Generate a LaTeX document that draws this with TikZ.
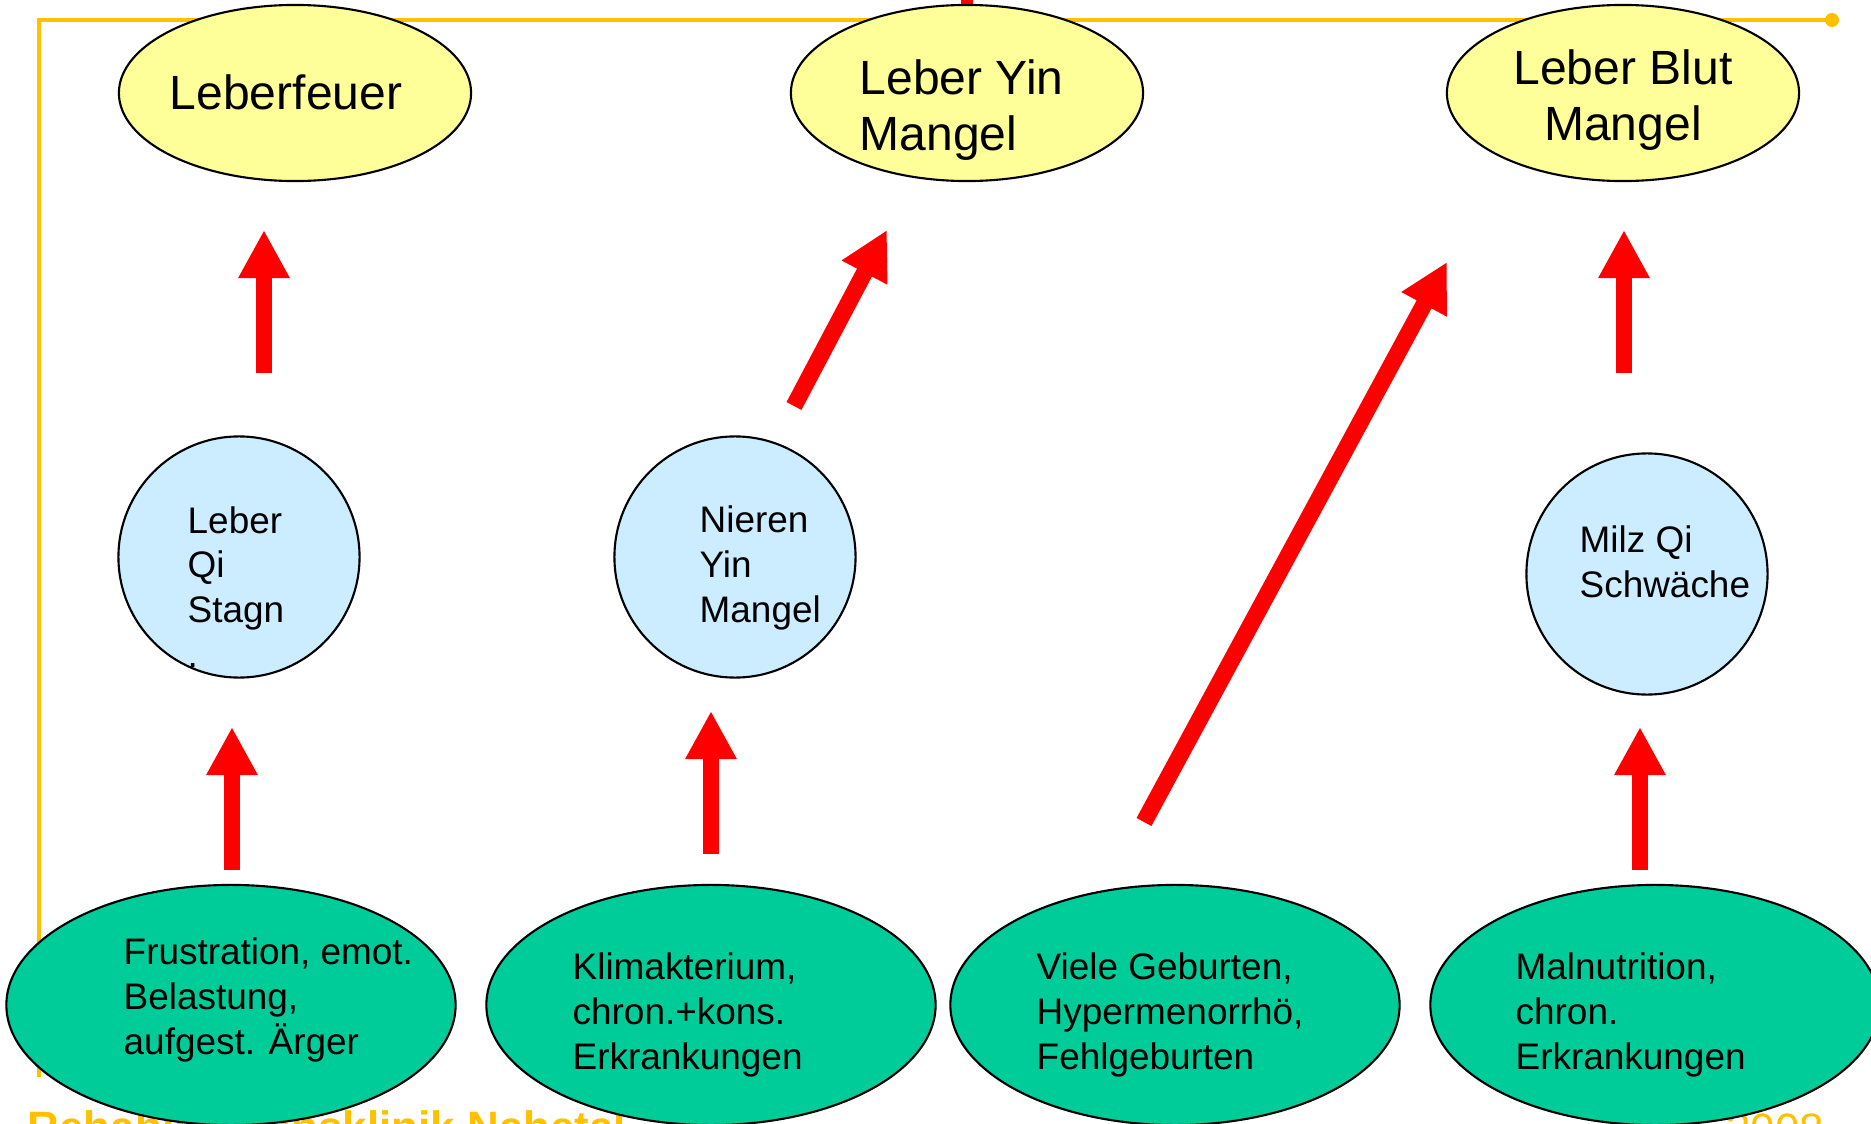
\documentclass[tikz,border=0pt]{standalone}
\usepackage{fontspec}
\setmainfont{Liberation Sans}
\usetikzlibrary{arrows.meta,shapes.geometric}
\definecolor{leberyellow}{RGB}{255,255,153}
\definecolor{organblue}{RGB}{204,236,255}
\definecolor{causegreen}{RGB}{0,204,153}
\definecolor{frameorange}{RGB}{255,192,0}

\begin{document}
\begin{tikzpicture}[x=0.01cm, y=-0.01cm,
		syndrom/.style={ellipse, draw, line width=0.6pt, fill=leberyellow, minimum width=3.52cm, minimum height=1.76cm, inner sep=0pt},
		organ/.style={circle, draw, line width=0.6pt, fill=organblue, minimum size=2.41cm, inner sep=0pt},
		ursache/.style={ellipse, draw, line width=0.6pt, fill=causegreen, minimum width=4.49cm, minimum height=2.4cm, inner sep=0pt},
		bigtext/.style={font=\fontsize{13.66}{15.9}\selectfont, align=left, inner sep=0pt},
		smalltext/.style={font=\fontsize{10.5}{12.7}\selectfont, align=left, inner sep=0pt},
		footer/.style={text=frameorange, font=\fontsize{12.5}{15}\selectfont, inner sep=0pt},
		blockarrow/.style={red, line width=4.8pt, -{Triangle[width=13.7pt, length=13.7pt]}}]
		
		\useasboundingbox (0,0) rectangle (1871,1124);
		
		% ---------- Slide frame and footer ----------
		\draw[frameorange, line width=1.15pt] (39,1077) -- (39,20) -- (1832,20);
		\fill[frameorange] (1832,20) circle (2pt);
		\node[footer, font=\fontsize{12.5}{15}\selectfont\bfseries, anchor=base west] (klinik) at (27,1142) {Rehabilitationsklinik Nahetal};
		\node[footer, anchor=base east] (jahr) at (1825,1144) {2008};
		\fill[red] (961,-2) rectangle (973,8);
		
		% ---------- Leber syndromes (top) ----------
		\node[syndrom] (feuer) at (295,93) {};
		\node[syndrom] (yin)   at (967,93) {};
		\node[syndrom] (blut)  at (1623,93) {};
		% (base of a multi-line node = its last line)
		\node[bigtext, anchor=base] (feuertxt) at (286,110) {Leberfeuer};
		\node[bigtext, anchor=base west] (yintxt) at (859,150) {Leber Yin\\Mangel};
		\node[bigtext, anchor=base, align=center] (bluttxt) at (1623,140) {Leber Blut\\Mangel};
		
		% ---------- Organ patterns (middle) ----------
		\node[organ] (qi)    at (239,557) {};
		\node[organ] (niere) at (735,557) {};
		\node[organ] (milz)  at (1647,574) {};
		\node[smalltext, anchor=base west] (qitxt)    at (187,667) {Leber\\Qi\\Stagn\\.};
		\node[smalltext, anchor=base west] (nieretxt) at (699,622) {Nieren\\Yin\\Mangel};
		\node[smalltext, anchor=base west] (milztxt)  at (1579,597) {Milz Qi\\Schwäche};
		
		% ---------- Causes (bottom) ----------
		\node[ursache] (frust)  at (231,1005) {};
		\node[ursache] (klima)  at (711,1005) {};
		\node[ursache] (geburt) at (1175,1005) {};
		\node[ursache] (malnut) at (1655,1005) {};
		\node[smalltext, anchor=base west] (frusttxt)  at (123,1054) {Frustration, emot.\\Belastung,\\aufgest. Ärger};
		\node[smalltext, anchor=base west] (klimatxt)  at (572,1069) {Klimakterium,\\chron.+kons.\\Erkrankungen};
		\node[smalltext, anchor=base west] (geburttxt) at (1036,1069) {Viele Geburten,\\Hypermenorrhö,\\Fehlgeburten};
		\node[smalltext, anchor=base west] (malnuttxt) at (1515,1069) {Malnutrition,\\chron.\\Erkrankungen};
		
		% ---------- Arrow ends ----------
		\coordinate (qiup)     at (264,373);  \coordinate (feuerin) at (264,230);
		\coordinate (niereup)  at (794,406);  \coordinate (yinin)   at (887,230);
		\coordinate (geburtup) at (1144,822); \coordinate (blutin2) at (1447,262);
		\coordinate (milzup)   at (1624,373); \coordinate (blutin)  at (1624,230);
		\coordinate (frustup)  at (232,870);  \coordinate (qiin)    at (232,727);
		\coordinate (klimaup)  at (711,854);  \coordinate (nierein) at (711,711);
		\coordinate (malnutup) at (1640,870); \coordinate (milzin)  at (1640,727);
		
		\foreach \a/\b in {qiup/feuerin, niereup/yinin, geburtup/blutin2, milzup/blutin,
			frustup/qiin, klimaup/nierein, malnutup/milzin}
		\draw[blockarrow] (\a) -- (\b);
		
	\end{tikzpicture}
\end{document}
